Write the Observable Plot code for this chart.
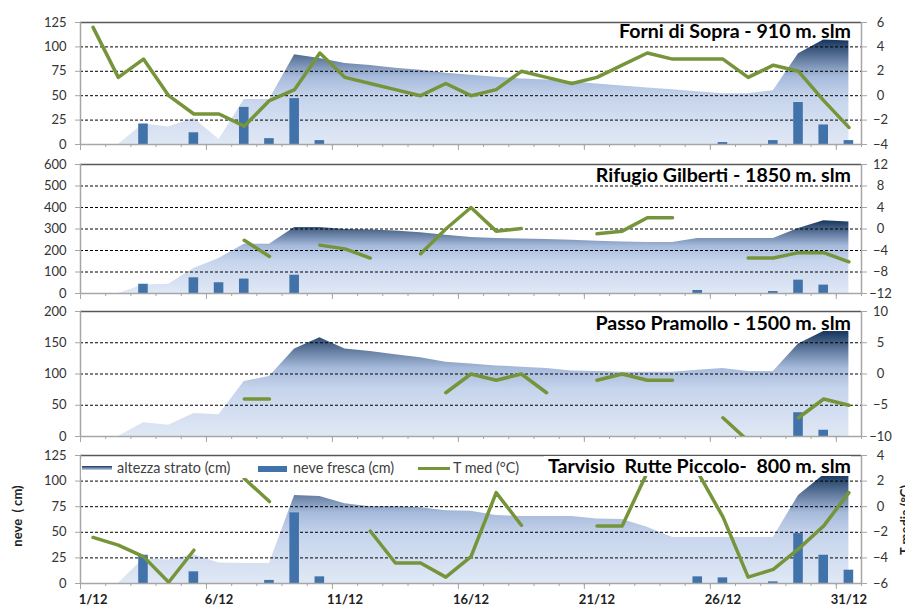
<!DOCTYPE html>
<html><head><meta charset="utf-8">
<script src="https://cdn.jsdelivr.net/npm/d3@7"></script>
<script src="https://cdn.jsdelivr.net/npm/@observablehq/plot@0.6"></script>
<style>
body{margin:0;background:#fff;font-family:Lato,"Open Sans",sans-serif;}
#chart{position:relative;width:905px;height:610px;overflow:hidden;background:#fff;}
.layer{position:absolute;left:0;}
.title{position:absolute;right:54px;font-weight:bold;font-size:19.6px;line-height:20px;color:#000;white-space:pre;}
.leg{position:absolute;font-size:14.4px;color:#404040;line-height:16px;white-space:pre;}
</style></head><body><div id="chart"></div>
<script>
// ---- data ----
const days = d3.range(1, 32);
const dayLabelDays = [1, 6, 11, 16, 21, 26, 31];
const dayLabelSuffix = "/12";

const forniTitle = "Forni di Sopra - 910 m. slm";
const forniSnow  = [0,0,21,18,27,5,46,46,92,88,83,81,78,76,73,71,69,67,66,64,62,60,58,56,54,52,52,55,93,107,106];
const forniFresh = [0,0,21,0,12,0,38,6,47,4,0,0,0,0,0,0,0,0,0,0,0,0,0,0,0,2,0,4,43,20,4];
const forniTemp  = [5.6,1.5,3.0,0.0,-1.5,-1.5,-2.5,-0.4,0.5,3.5,1.5,1.0,0.5,0.0,1.0,0.0,0.5,2.0,1.5,1.0,1.5,2.5,3.5,3.0,3.0,3.0,1.5,2.5,2.0,-0.4,-2.6];

const gilbertiTitle = "Rifugio Gilberti - 1850 m. slm";
const gilbertiSnow  = [0,0,40,43,116,163,229,229,307,307,298,295,291,282,271,260,256,253,251,248,243,240,237,237,256,256,256,256,302,338,333];
const gilbertiFresh = [0,0,43,0,73,50,67,0,85,0,0,0,0,0,0,0,0,0,0,0,0,0,0,0,14,0,0,9,62,39,0];
const gilbertiTemp  = [null,null,null,null,null,null,-2.1,-5.1,null,-3.0,-3.7,-5.4,null,-4.6,0.0,4.0,-0.4,0.1,null,null,-0.9,-0.4,2.1,2.1,null,null,-5.4,-5.4,-4.4,-4.4,-6.1];

const pramolloTitle = "Passo Pramollo - 1500 m. slm";
const pramolloSnow  = [0,0,22,18,37,35,88,96,140,158,140,136,131,126,119,116,113,111,109,105,104,103,103,103,106,109,104,104,148,168,168];
const pramolloFresh = [0,0,0,0,0,0,0,0,0,0,0,0,0,0,0,0,0,0,0,0,0,0,0,0,0,0,0,0,38,10,0];
const pramolloTemp  = [null,null,null,null,null,null,-4,-4,null,null,null,null,null,null,-3,0,-1,0,-3,null,-1,0,-1,-1,null,-7,-10.7,null,-7,-4,-5];

const tarvisioTitle = "Tarvisio  Rutte Piccolo-  800 m. slm";
const tarvisioSnow  = [0,0,24,23,28,20,19.5,19.5,86,85,78,75,75,74,71,70.5,66.5,65.5,65.5,65.5,63,62.5,55,45,45,45,45,45,86,106,106];
const tarvisioFresh = [0,0,27.6,0,11.4,0,0,3,69,6.5,0,0,0,0,0,0,0,0,0,0,0,0,0,0,6.5,5.5,0,1.6,48.7,27.6,13];
const tarvisioTemp  = [-2.4,-3.0,-3.9,-5.9,-3.4,null,2.2,0.4,null,null,null,-1.9,-4.4,-4.4,-5.5,-3.9,1.1,-1.45,null,null,-1.5,-1.5,2.7,null,2.7,-0.8,-5.5,-4.9,-3.3,-1.5,1.1];

const snowTicks1 = [0,25,50,75,100,125];
const snowTicks2 = [0,100,200,300,400,500,600];
const snowTicks3 = [0,50,100,150,200];
const snowTicks4 = [0,25,50,75,100,125];
const tempTicks1 = [-4,-2,0,2,4,6];
const tempTicks2 = [-12,-8,-4,0,4,8,12];
const tempTicks3 = [-10,-5,0,5,10];
const tempTicks4 = [-6,-4,-2,0,2,4];

const legendLabels = ["altezza strato (cm)", "neve fresca (cm)", "T med (°C)"];
const yLabelLeft = "neve  ( cm)";
const yLabelRight = "T media (°C)";

// ---- styles ----
const BAR = "#4272aa", GREEN = "#76953a", AXIS = "#a6a6a6";
const chart = document.getElementById("chart");
let gc = 0;

function addGradient(svg, id) {
  const defs = d3.select(svg).insert("defs", ":first-child");
  const lg = defs.append("linearGradient").attr("id", id)
    .attr("x1", 0).attr("y1", 0).attr("x2", 0).attr("y2", 1);
  [[0, "#17365d"], [0.35, "#a6badb"], [0.55, "#c6d4ec"], [1, "#e0e8f5"]]
    .forEach(([o, c]) => lg.append("stop").attr("offset", o).attr("stop-color", c));
}

function panel(p) {
  const mt = 10, mb = p.bottom ? 27 : 10;
  const rows = days.map((d, i) => ({day: d, snow: p.snow[i], fresh: p.fresh[i], temp: p.temp[i]}));
  const gid = "grad" + (++gc);
  const yMax = p.snowTicks[p.snowTicks.length - 1];
  const common = {
    width: 905, height: p.h + mt + mb,
    marginLeft: 80, marginRight: 44, marginTop: mt, marginBottom: mb,
    x: {domain: [0.5, 31.5], axis: null, label: null},
    style: {fontFamily: "Lato, 'Open Sans', sans-serif", fontSize: "13px", color: "#333", background: "transparent", overflow: "visible"}
  };
  const boundaries = d3.range(0.5, 32, 1);
  const majors = boundaries.filter((b, i) => i % 5 === 0);
  const cm = Plot.plot({
    ...common,
    y: {domain: [0, yMax], axis: null, label: null},
    marks: [
      Plot.areaY(rows, {x: "day", y: "snow", fill: `url(#${gid})`}),
      Plot.ruleY(p.snowTicks.filter(v => v > 0 && v < yMax), {stroke: "#000", strokeDasharray: "3,2", strokeWidth: 1}),
      Plot.ruleY([yMax], {stroke: "#595959", strokeWidth: 1.5}),
      Plot.rectY(rows.filter(r => r.fresh > 0), {x1: r => r.day - 0.19, x2: r => r.day + 0.19, y: "fresh", fill: BAR}),
      Plot.ruleX([0.5], {stroke: AXIS, strokeWidth: 1.5}),
      Plot.ruleY([0], {stroke: AXIS, strokeWidth: 1.5}),
      Plot.axisX(boundaries, {anchor: "bottom", tickSize: 3, stroke: AXIS, tickFormat: () => "", label: null}),
      Plot.axisX(majors, {anchor: "bottom", tickSize: 6, stroke: AXIS, tickFormat: () => "", label: null}),
      p.bottom ? Plot.axisX(dayLabelDays, {anchor: "bottom", tickSize: 0, tickPadding: 11, fontSize: 13, fontWeight: "bold", fill: "#222", tickFormat: d => d + dayLabelSuffix, label: null}) : null,
      Plot.axisY(p.snowTicks, {anchor: "left", tickSize: 5, tickPadding: 9, stroke: AXIS, label: null})
    ]
  });
  addGradient(cm, gid);
  const tp = Plot.plot({
    ...common,
    y: {domain: p.tDomain, axis: null, label: null},
    marks: [
      Plot.line(rows, {x: "day", y: "temp", stroke: GREEN, strokeWidth: 3.5, strokeLinecap: "round", strokeLinejoin: "round", clip: true}),
      Plot.ruleX([31.5], {stroke: AXIS, strokeWidth: 1.5}),
      Plot.axisY(p.tempTicks, {anchor: "right", tickSize: 5, tickPadding: 14, textAnchor: "middle", stroke: AXIS, label: null})
    ]
  });
  [cm, tp].forEach(s => {
    s.classList.add("layer");
    s.style.top = (p.top - mt) + "px";
    chart.appendChild(s);
  });
  const t = document.createElement("div");
  t.className = "title";
  t.textContent = p.title;
  t.style.top = (p.titleCenter - 10) + "px";
  if (p.bottom) { t.style.background = "#fff"; t.style.paddingLeft = "4px"; }
  chart.appendChild(t);
}

panel({top: 22, h: 122, snowTicks: snowTicks1, tDomain: [-4, 6], tempTicks: tempTicks1, snow: forniSnow, fresh: forniFresh, temp: forniTemp, title: forniTitle, titleCenter: 31});
panel({top: 164, h: 129, snowTicks: snowTicks2, tDomain: [-12, 12], tempTicks: tempTicks2, snow: gilbertiSnow, fresh: gilbertiFresh, temp: gilbertiTemp, title: gilbertiTitle, titleCenter: 175});
panel({top: 311, h: 125, snowTicks: snowTicks3, tDomain: [-10, 10], tempTicks: tempTicks3, snow: pramolloSnow, fresh: pramolloFresh, temp: pramolloTemp, title: pramolloTitle, titleCenter: 323});
panel({top: 455, h: 128, snowTicks: snowTicks4, tDomain: [-6, 4], tempTicks: tempTicks4, snow: tarvisioSnow, fresh: tarvisioFresh, temp: tarvisioTemp, title: tarvisioTitle, titleCenter: 466, bottom: true});

// legend (inside bottom panel)
const legBox = document.createElement("div");
legBox.style.cssText = "position:absolute;left:81px;top:459px;width:445px;height:19px;background:#fff;";
chart.appendChild(legBox);
function legItem(x, swatch, label, tx) {
  const s = document.createElement("div");
  s.style.cssText = "position:absolute;left:" + x + "px;" + swatch;
  chart.appendChild(s);
  const l = document.createElement("div");
  l.className = "leg";
  l.style.left = tx + "px"; l.style.top = "460px";
  l.textContent = label;
  chart.appendChild(l);
}
legItem(82, "top:466px;width:30px;height:4px;background:linear-gradient(#17365d,#c6d4ec);", legendLabels[0], 117);
legItem(258, "top:466px;width:29px;height:6px;background:" + BAR + ";", legendLabels[1], 293);
legItem(418, "top:467px;width:32px;height:3px;background:" + GREEN + ";", legendLabels[2], 453);

// axis titles
const yl = document.createElement("div");
yl.textContent = yLabelLeft;
yl.style.cssText = "position:absolute;left:17px;top:516px;font-weight:bold;font-size:13px;color:#222;white-space:pre;transform:translate(-50%,-50%) rotate(-90deg);";
chart.appendChild(yl);
const yr = document.createElement("div");
yr.textContent = yLabelRight;
yr.style.cssText = "position:absolute;left:905px;top:520px;font-weight:bold;font-size:13px;color:#222;white-space:pre;transform:translate(-50%,-50%) rotate(-90deg);";
chart.appendChild(yr);
</script></body></html>
